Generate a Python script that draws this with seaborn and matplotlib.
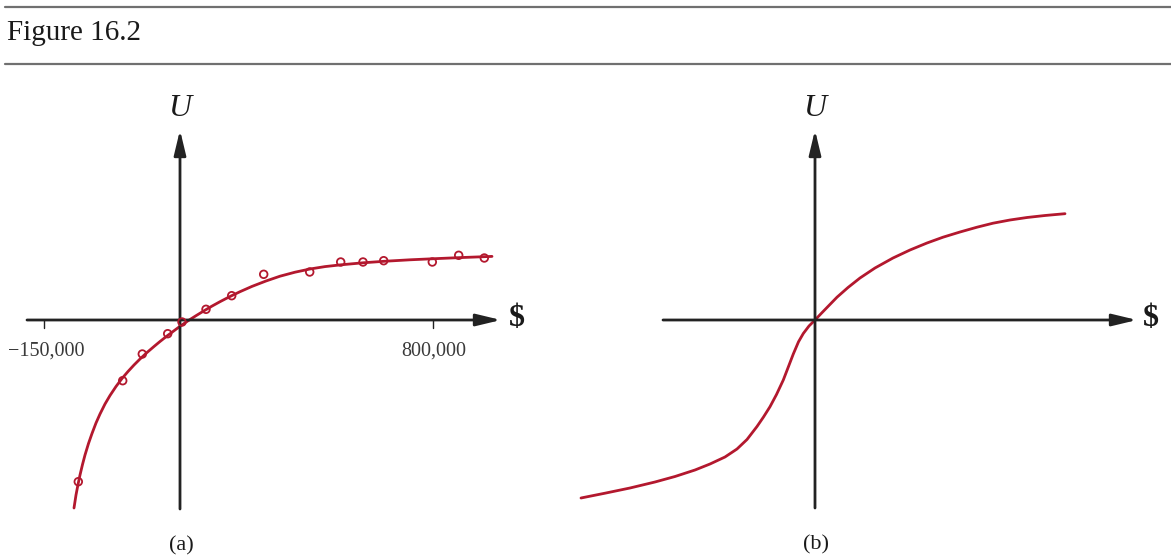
import matplotlib
matplotlib.use("Agg")
import matplotlib.pyplot as plt
import seaborn as sns
import pandas as pd

# ---------------- data (schematic units, origin at axes crossing) ----------------
# Panel (a): fitted utility curve and assessed points
a_curve_x = [-106, -104, -102, -100, -97.5, -95, -91.5, -88, -84, -80, -75, -70, -64, -58,
             -52, -46, -40, -33, -26, -20, -13, -7, 0, 8, 16, 24, 32, 40, 50, 60, 72, 86,
             100, 115, 130, 145, 161, 183, 204, 230, 252, 280, 312]
a_curve_u = [-188, -175, -164.5, -155, -144.5, -135, -123.5, -113.5, -103, -94, -84, -75.5,
             -66.5, -58.5, -51.5, -45, -39, -32.5, -26.5, -21.5, -16, -11.5, -6.3, -0.8,
             4.3, 9.2, 13.9, 18.3, 23.5, 28.3, 33.6, 39, 43.8, 47.8, 51, 53.4, 55.2, 57.2,
             58.7, 60.2, 61.2, 62.4, 63.6]
a_pts_x = [-101.7, -57.3, -37.7, -12.3, 2, 26, 51.7, 83.7, 129.7, 160.7, 183, 203.7, 252.3, 278.7, 304.3]
a_pts_u = [-161.7, -60.7, -34, -13.7, -2, 10.7, 24.3, 45.7, 48, 58, 58, 59.3, 58, 64.7, 62]
a_tick_pos = [-136, 253]
a_tick_labels = ["\u2212150,000", "800,000"]

# Panel (b): S-shaped utility curve
b_curve_x = [-234, -210, -185, -160, -140, -120, -105, -90, -78, -68, -58, -51.5, -45, -38.5,
             -31.7, -26.5, -21.7, -16.5, -11.7, -6, 0, 6, 12, 22, 33, 45, 60, 78, 95, 112,
             128, 145, 162, 178, 195, 212, 230, 250]
b_curve_u = [-178, -173.2, -168, -162, -156.5, -150, -144, -137, -129, -119.5, -106.5, -97,
             -86.7, -74.5, -60, -46.5, -34, -21.8, -13.5, -6, 0, 6.3, 12.5, 22.8, 32.5, 42,
             52, 62, 70, 77, 82.8, 88, 92.8, 96.8, 100, 102.5, 104.5, 106.3]

panel_labels = ["(a)", "(b)"]
title_text = "Figure 16.2"
y_label = "U"
x_label = "$"

# ---------------- style ----------------
sns.set_style("white")
plt.rcParams["font.family"] = ["Liberation Serif", "DejaVu Serif"]

RED = "#b3182e"
AXC = "#222222"

fig = plt.figure(figsize=(11.71, 5.57), dpi=100)

# header rules and title
fig.add_artist(plt.Line2D([5 / 1171, 1], [1 - 7 / 557] * 2, color="#707070", lw=1.6))
fig.add_artist(plt.Line2D([5 / 1171, 1], [1 - 64 / 557] * 2, color="#707070", lw=1.6))
fig.text(7 / 1171, 1 - 33 / 557, title_text, fontsize=21, color="#1a1a1a",
         ha="left", va="center", family="Liberation Serif")

ax_a = fig.add_axes([0, 0, 560 / 1171, 477 / 557])
ax_b = fig.add_axes([560 / 1171, 0, 611 / 1171, 477 / 557])
ax_a.set_xlim(-180, 380)
ax_b.set_xlim(-255, 356)
for ax in (ax_a, ax_b):
    ax.set_ylim(-237, 240)
    ax.axis("off")


def draw_axes(ax, x0, x1, y0, y1, label_x):
    style = "-|>,head_length=0.75,head_width=0.18"
    ax.annotate("", xy=(x1, 0), xytext=(x0, 0),
                arrowprops=dict(arrowstyle=style, lw=2.0, color=AXC, mutation_scale=20,
                                shrinkA=0, shrinkB=0), annotation_clip=False)
    ax.annotate("", xy=(0, y1), xytext=(0, y0),
                arrowprops=dict(arrowstyle=style, lw=2.0, color=AXC, mutation_scale=20,
                                shrinkA=0, shrinkB=0), annotation_clip=False)
    ax.text(0, 212, y_label, fontsize=23, style="italic", ha="center", va="center",
            color="#1a1a1a")
    ax.text(label_x, 2, x_label, fontsize=23, fontweight="bold", ha="center",
            va="center", color="#1a1a1a")


# panel (a)
draw_axes(ax_a, -153, 321, -189, 190, 337)
for xp, lab in zip(a_tick_pos, a_tick_labels):
    ax_a.plot([xp, xp], [0, -8], color=AXC, lw=1.0)
    ax_a.text(xp + 1 if xp > 0 else xp + 2, -31, lab, fontsize=14.5, ha="center",
              va="center", color="#3a3a3a")
df_a = pd.DataFrame({"x": a_curve_x, "u": a_curve_u})
sns.lineplot(data=df_a, x="x", y="u", ax=ax_a, sort=False, estimator=None,
             color=RED, lw=2.0)
df_ap = pd.DataFrame({"x": a_pts_x, "u": a_pts_u})
sns.scatterplot(data=df_ap, x="x", y="u", ax=ax_a, s=30, facecolor="none",
                edgecolor=RED, linewidth=1.3, zorder=5)
ax_a.text(1, -226, panel_labels[0], fontsize=16, ha="center", va="center",
          color="#1a1a1a")

# panel (b)
draw_axes(ax_b, -152, 322, -188, 190, 336)
df_b = pd.DataFrame({"x": b_curve_x, "u": b_curve_u})
sns.lineplot(data=df_b, x="x", y="u", ax=ax_b, sort=False, estimator=None,
             color=RED, lw=2.0)
ax_b.text(1, -225, panel_labels[1], fontsize=16, ha="center", va="center",
          color="#1a1a1a")

for ax in (ax_a, ax_b):
    ax.set_xlabel("")
    ax.set_ylabel("")
    ax.axis("off")

fig.savefig("out.png", dpi=100)
